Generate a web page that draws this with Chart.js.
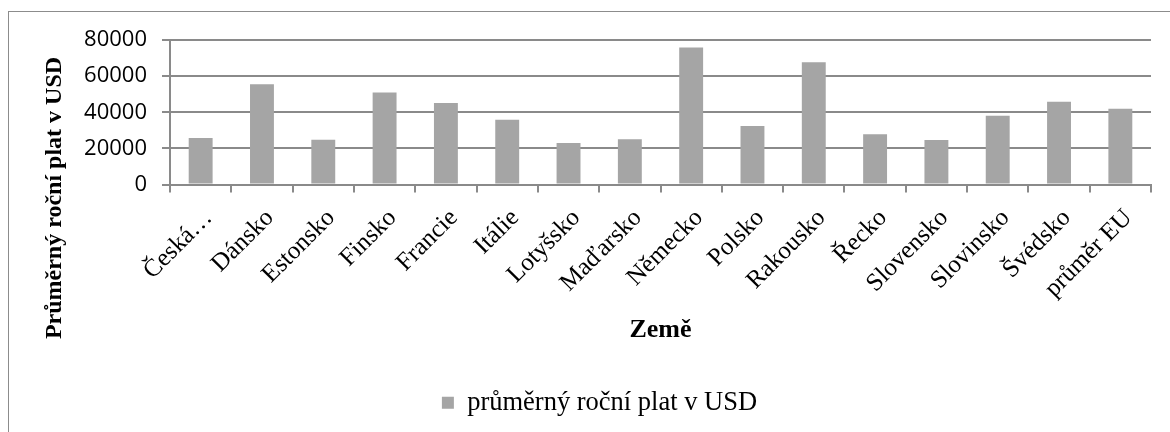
<!DOCTYPE html>
<html>
<head>
<meta charset="utf-8">
<script src="https://cdn.jsdelivr.net/npm/chart.js@4/dist/chart.umd.min.js"></script>
<style>
  html, body { margin: 0; padding: 0; background: #fff; }
  #wrap { width: 1170px; height: 432px; }
</style>
</head>
<body>
<div id="wrap"><canvas id="salaryChart"></canvas></div>
<script>
// data
const categories = ['Česká…', 'Dánsko', 'Estonsko', 'Finsko', 'Francie', 'Itálie', 'Lotyšsko', 'Maďarsko',
  'Německo', 'Polsko', 'Rakousko', 'Řecko', 'Slovensko', 'Slovinsko', 'Švédsko', 'průměr EU'];
const salaries = [25800, 55500, 24800, 50900, 45100, 35900, 23000, 25000,
  75800, 32400, 67700, 27800, 24600, 38100, 45800, 41900];
const seriesName = 'průměrný roční plat v USD';
const yTicks = [0, 20000, 40000, 60000, 80000];
const xTitle = 'Země';
const yTitle = 'Průměrný roční plat v USD';

const gridGray = '#8a8a8a';
const barGray = '#a5a5a5';

// frame round the chart and the y title (centred on the whole chart, like the original)
const framePlugin = {
  id: 'framePlugin',
  beforeDraw(chart) {
    const c = chart.ctx;
    c.save();
    c.fillStyle = '#fff';
    c.fillRect(0, 0, chart.width, chart.height);
    c.strokeStyle = '#8c8c8c';
    c.lineWidth = 1;
    c.strokeRect(8.5, 11.5, chart.width + 10, chart.height + 10);
    c.restore();
  },
  afterDraw(chart) {
    const c = chart.ctx;
    c.save();
    c.translate(55, 198);
    c.rotate(-Math.PI / 2);
    c.font = 'bold 24px "Liberation Serif"';
    c.fillStyle = '#000';
    c.textAlign = 'center';
    c.textBaseline = 'middle';
    c.fillText(yTitle, 0, 0);
    c.restore();
  }
};

const ctx = document.getElementById('salaryChart').getContext('2d');

const myChart = new Chart(ctx, {
  type: 'bar',
  data: {
    labels: categories,
    datasets: [{
      label: seriesName,
      data: salaries,
      backgroundColor: barGray,
      borderWidth: 0,
      categoryPercentage: 1,
      barPercentage: 0.39
    }]
  },
  options: {
    responsive: true,
    maintainAspectRatio: false,
    animation: false,
    layout: { padding: { left: 48, right: 19, top: 40, bottom: 6 } },
    plugins: {
      tooltip: { enabled: false },
      legend: {
        position: 'bottom',
        labels: {
          boxWidth: 12,
          boxHeight: 12,
          padding: 8,
          color: '#000',
          font: { family: 'Liberation Serif', size: 26.5 }
        }
      }
    },
    scales: {
      x: {
        grid: {
          offset: true,
          drawOnChartArea: false,
          drawTicks: true,
          tickLength: 8,
          color: gridGray,
          lineWidth: 2
        },
        border: { color: gridGray, width: 2 },
        ticks: {
          autoSkip: false,
          minRotation: 45,
          maxRotation: 45,
          padding: 11,
          labelOffset: 8,
          color: '#000',
          font: { family: 'Liberation Serif', size: 25 }
        },
        title: {
          display: true,
          text: xTitle,
          color: '#000',
          padding: { top: 0, bottom: 36 },
          font: { family: 'Liberation Serif', size: 26, weight: 'bold' }
        },
        afterFit(scale) { scale.height = 197; }
      },
      y: {
        min: 0,
        max: 80000,
        afterBuildTicks(scale) { scale.ticks = yTicks.map(v => ({ value: v })); },
        grid: { color: gridGray, lineWidth: 2, tickLength: 8 },
        border: { color: gridGray, width: 2 },
        ticks: {
          padding: 15,
          color: '#000',
          font: { family: 'Open Sans', size: 22 },
          callback: v => String(v)
        },
        afterFit(scale) { scale.width = 122; }
      }
    }
  },
  plugins: [framePlugin]
});
myChart.update();
</script>
</body>
</html>
